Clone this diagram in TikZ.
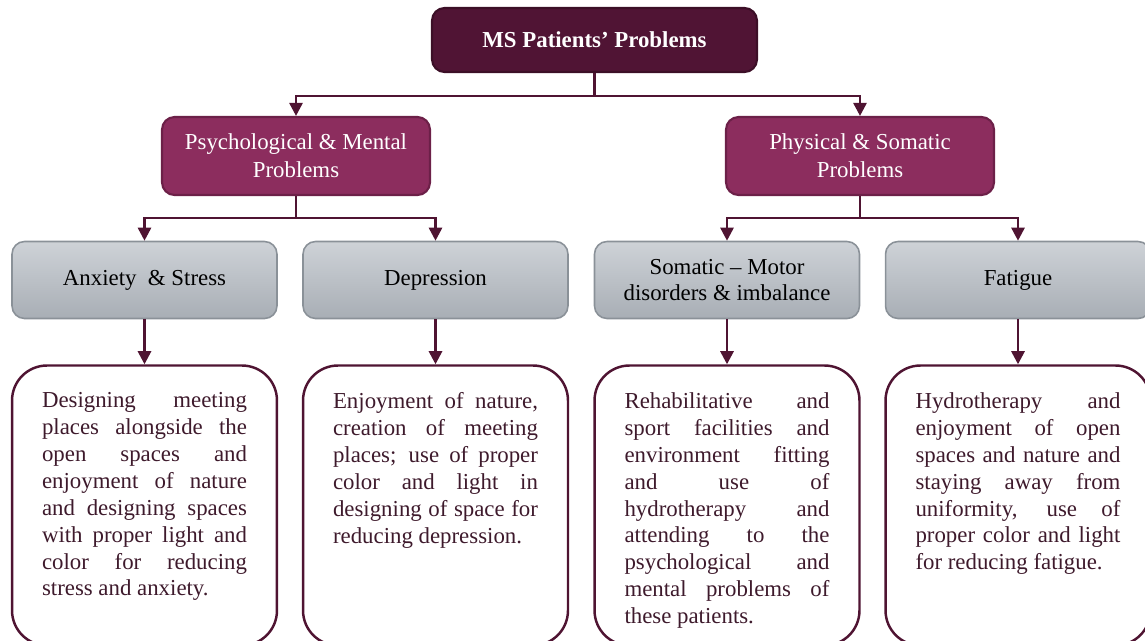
\documentclass[tikz,border=0pt]{standalone}
\usepackage{fontspec}
\setmainfont{Liberation Serif}
\usetikzlibrary{positioning,arrows.meta}
\hbadness=10000
\hfuzz=6pt
\definecolor{msdark}{RGB}{80,20,52}
\definecolor{msline}{RGB}{79,20,50}
\definecolor{msrasp}{RGB}{140,45,94}
\definecolor{msraspdk}{RGB}{108,32,72}
\definecolor{msgreytop}{RGB}{206,210,215}
\definecolor{msgreybot}{RGB}{168,174,181}
\definecolor{msgreyline}{RGB}{138,145,152}
\definecolor{mstext}{RGB}{62,26,44}
\tikzset{
  rootbox/.style={draw=msdark!75!black, fill=msdark, rounded corners=0.25cm, line width=1.2pt,
    text=white, font=\fontsize{13}{16}\selectfont\bfseries,
    minimum width=6.5cm, minimum height=1.28cm, inner sep=0pt},
  groupbox/.style={draw=msraspdk, fill=msrasp, rounded corners=0.25cm, line width=1.2pt,
    text=white, font=\fontsize{13}{15.9}\selectfont, align=center,
    minimum width=5.36cm, minimum height=1.56cm, inner sep=0pt},
  itembox/.style={draw=msgreyline, top color=msgreytop, bottom color=msgreybot,
    rounded corners=0.25cm, line width=0.9pt, font=\fontsize{13}{15.3}\selectfont,
    align=center, minimum width=5.3cm, minimum height=1.54cm, inner sep=0pt},
  solbox/.style={draw=msline, line width=1.4pt, rounded corners=0.7cm,
    minimum width=5.3cm, minimum height=5.6cm, inner sep=0pt},
  soltext/.style={text=mstext, font=\fontsize{13}{15.3}\selectfont,
    text width=4.1cm, align=justify, inner sep=0pt},
  conn/.style={draw=msline, line width=1.5pt, -{Triangle[width=7.5pt,length=7.5pt]}}
}
\begin{document}
\begin{tikzpicture}[x=0.02cm,y=-0.02cm]
	\useasboundingbox (0,0) rectangle (1145,640);
	\clip (0,0) rectangle (1145,640);
	% levels 1 and 2
	\node[rootbox] (root) at (594.5,40) {MS Patients' Problems};
	\node[groupbox] (psy) at (296,156) {Psychological \& Mental\\Problems};
	\node[groupbox] (phy) at (860,156) {Physical \& Somatic\\Problems};
	% level 3
	\node[itembox] (anx) at (144.5,280) {Anxiety\ \ \& Stress};
	\node[itembox] (dep) at (435.5,280) {Depression};
	\node[itembox] (mot) at (727,280) {Somatic -- Motor\\disorders \& imbalance};
	\node[itembox] (fat) at (1018,280) {Fatigue};
	% solutions
	\node[solbox, below=0.9cm of anx] (sol1) {};
	\node[solbox, below=0.9cm of dep] (sol2) {};
	\node[solbox, below=0.9cm of mot] (sol3) {};
	\node[solbox, below=0.9cm of fat] (sol4) {};
	\node[soltext, below=0.56cm of sol1.north] (txt1) {Designing meeting\linebreak
		places alongside the\linebreak open spaces and\linebreak
		enjoyment of nature\linebreak and designing spaces\linebreak
		with proper light and\linebreak color for reducing\linebreak
		stress and anxiety.};
	\node[soltext, below=0.56cm of sol2.north] (txt2) {Enjoyment of nature,\linebreak
		creation of meeting\linebreak places; use of proper\linebreak
		color and light in\linebreak designing of space for\linebreak
		reducing depression.};
	\node[soltext, below=0.56cm of sol3.north] (txt3) {Rehabilitative and\linebreak
		sport facilities and\linebreak environment fitting\linebreak
		and use of\linebreak hydrotherapy and\linebreak
		attending to the\linebreak psychological and\linebreak
		mental problems of\linebreak these patients.};
	\node[soltext, below=0.56cm of sol4.north] (txt4) {Hydrotherapy and\linebreak
		enjoyment of open\linebreak spaces and nature and\linebreak
		staying away from\linebreak uniformity, use of\linebreak
		proper color and light\linebreak for reducing fatigue.};
	% connectors
	\draw[conn] (root.south) -- ++(0,23) -| (psy);
	\draw[conn] (root.south) -- ++(0,23) -| (phy);
	\draw[conn] (psy.south) -- ++(0,22) -| (anx);
	\draw[conn] (psy.south) -- ++(0,22) -| (dep);
	\draw[conn] (phy.south) -- ++(0,22) -| (mot);
	\draw[conn] (phy.south) -- ++(0,22) -| (fat);
	\draw[conn] (anx) -- (sol1);
	\draw[conn] (dep) -- (sol2);
	\draw[conn] (mot) -- (sol3);
	\draw[conn] (fat) -- (sol4);
\end{tikzpicture}
\end{document}
